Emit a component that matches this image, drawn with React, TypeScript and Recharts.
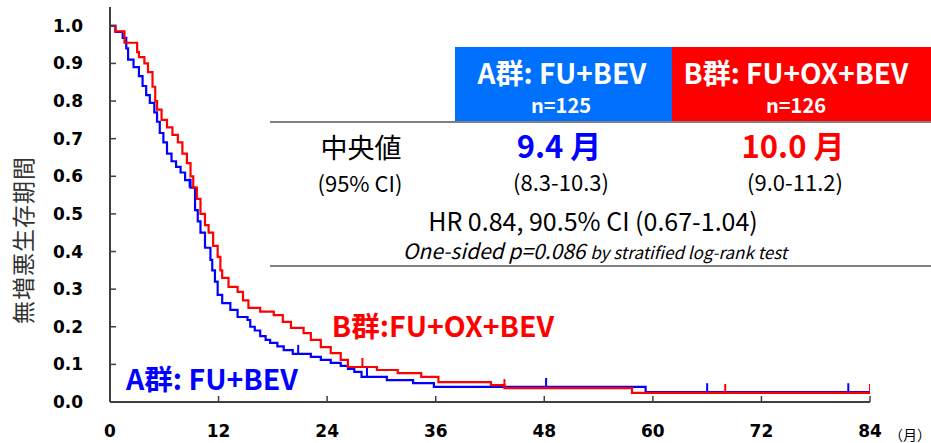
import React from 'react';
import { ComposedChart, Line, Scatter, XAxis, YAxis } from 'recharts';

// Kaplan-Meier steps (months, survival)
const armATimes = [0, 0.6, 1.4, 1.8, 2.0, 2.6, 3.2, 3.6, 4.0, 4.4, 4.9, 5.2, 5.5, 5.9, 6.3, 6.8, 7.3, 7.8, 8.3, 8.9, 9.4, 9.7, 10.0, 10.5, 11.1, 11.3, 11.6, 11.9, 12.4, 13.3, 14.1, 15.2, 15.5, 16.0, 16.6, 17.2, 17.7, 18.5, 19.2, 20.2, 22.2, 23.3, 24.4, 25.5, 26.3, 27.0, 27.8, 30.6, 33.5, 35.8, 59.2, 84];
const armASurv = [1.0, 0.984, 0.968, 0.94, 0.91, 0.89, 0.866, 0.84, 0.816, 0.795, 0.77, 0.745, 0.715, 0.69, 0.66, 0.64, 0.625, 0.61, 0.59, 0.57, 0.51, 0.48, 0.45, 0.41, 0.378, 0.35, 0.32, 0.285, 0.263, 0.245, 0.226, 0.218, 0.2, 0.19, 0.175, 0.165, 0.157, 0.148, 0.138, 0.128, 0.12, 0.112, 0.104, 0.096, 0.088, 0.08, 0.067, 0.058, 0.05, 0.04, 0.026, 0.026];

const armBTimes = [0, 0.6, 1.6, 3.0, 3.2, 3.8, 4.2, 4.7, 5.0, 5.2, 5.7, 6.3, 6.9, 7.5, 8.0, 8.5, 8.9, 9.2, 9.6, 10.0, 10.5, 10.9, 11.4, 11.9, 12.2, 12.4, 13.1, 14.1, 14.7, 15.3, 16.6, 18.1, 19.1, 20.0, 21.4, 22.2, 23.3, 24.4, 25.5, 26.3, 29.5, 31.8, 34.4, 36.3, 42.1, 43.6, 57.7, 84];
const armBSurv = [1.0, 0.985, 0.955, 0.93, 0.917, 0.9, 0.877, 0.838, 0.8, 0.777, 0.75, 0.73, 0.71, 0.69, 0.66, 0.635, 0.6, 0.57, 0.54, 0.5, 0.47, 0.45, 0.415, 0.386, 0.35, 0.33, 0.306, 0.293, 0.27, 0.25, 0.24, 0.231, 0.213, 0.197, 0.183, 0.165, 0.146, 0.13, 0.112, 0.093, 0.085, 0.077, 0.067, 0.053, 0.045, 0.037, 0.024, 0.024];

// censoring marks
const armACensorTimes = [8.8, 20.8, 28.4, 48.2, 66, 81.6];
const armACensorSurv = [0.57, 0.128, 0.067, 0.04, 0.026, 0.026];
const armBCensorTimes = [27.9, 43.6, 68, 84];
const armBCensorSurv = [0.093, 0.037, 0.024, 0.024];

const xTicks = [0, 12, 24, 36, 48, 60, 72, 84];
const yTicks = [0, 0.1, 0.2, 0.3, 0.4, 0.5, 0.6, 0.7, 0.8, 0.9, 1.0];

const BLUE = '#0000ff';
const RED = '#ff0000';
const AXIS = '#404040';
const JP = '"Noto Sans CJK JP", "Noto Sans", sans-serif';

const zip = (ts: number[], ss: number[]) => ts.map((t, i) => ({ t, s: ss[i] }));

const armA = zip(armATimes, armASurv);
const armB = zip(armBTimes, armBSurv);
const armACensor = zip(armACensorTimes, armACensorSurv);
const armBCensor = zip(armBCensorTimes, armBCensorSurv);

const censorMark = (color: string) => (props: any) => (
  <line x1={props.cx} x2={props.cx} y1={props.cy - 9} y2={props.cy} stroke={color} strokeWidth={2} />
);

const Txt = ({ x, y, children, style }: { x: number; y: number; children: React.ReactNode; style?: React.CSSProperties }) => (
  <div
    style={{
      position: 'absolute',
      left: x,
      top: y,
      transform: 'translate(-50%, -50%)',
      whiteSpace: 'nowrap',
      fontFamily: JP,
      lineHeight: 1,
      ...style,
    }}
  >
    {children}
  </div>
);

export default function App() {
  return (
    <div style={{ position: 'absolute', left: 0, top: 0, width: 931, height: 443, background: '#fff', overflow: 'hidden' }}>
      <ComposedChart width={931} height={443} margin={{ top: 7, right: 61, left: 40, bottom: 11 }}>
        <XAxis
          dataKey="t"
          type="number"
          domain={[0, 84]}
          ticks={xTicks}
          allowDataOverflow
          height={30}
          stroke={AXIS}
          strokeWidth={2}
          tickSize={-6}
          tickMargin={29}
          tickLine={{ stroke: AXIS, strokeWidth: 1.5 }}
          tick={{ fill: '#000', fontFamily: 'DejaVu Sans', fontWeight: 700, fontSize: 17 }}
        />
        <YAxis
          dataKey="s"
          type="number"
          domain={[0, 1.05]}
          ticks={yTicks}
          width={70}
          stroke={AXIS}
          strokeWidth={2}
          tickSize={-6}
          tickMargin={33}
          tickLine={{ stroke: AXIS, strokeWidth: 1.5 }}
          tickFormatter={(v: number) => v.toFixed(1)}
          tick={{ fill: '#000', fontFamily: 'DejaVu Sans', fontWeight: 700, fontSize: 17 }}
        />
        <Line data={armA} dataKey="s" type="stepAfter" stroke={BLUE} strokeWidth={2.2} dot={false} isAnimationActive={false} />
        <Line data={armB} dataKey="s" type="stepAfter" stroke={RED} strokeWidth={2.2} dot={false} isAnimationActive={false} />
        <Scatter data={armACensor} dataKey="s" shape={censorMark(BLUE)} isAnimationActive={false} />
        <Scatter data={armBCensor} dataKey="s" shape={censorMark(RED)} isAnimationActive={false} />
      </ComposedChart>

      {/* y axis title */}
      <Txt x={22} y={240} style={{ transform: 'translate(-50%, -50%) rotate(-90deg)', fontSize: 23, color: '#333', letterSpacing: 1 }}>
        無増悪生存期間
      </Txt>
      <div style={{ position: 'absolute', left: 889, top: 424, fontFamily: JP, fontSize: 14, color: '#000' }}>（月）</div>

      {/* curve labels */}
      <Txt x={443} y={325} style={{ fontSize: 28.5, fontWeight: 700, color: RED }}>B群:FU+OX+BEV</Txt>
      <Txt x={212} y={378} style={{ fontSize: 28.5, fontWeight: 700, color: BLUE }}>A群: FU+BEV</Txt>

      {/* summary table */}
      <div style={{ position: 'absolute', left: 455, top: 47, width: 217, height: 75, background: '#0070ff' }} />
      <div style={{ position: 'absolute', left: 672, top: 47, width: 259, height: 75, background: RED }} />
      <div style={{ position: 'absolute', left: 270, top: 121, width: 661, height: 2, background: '#808080' }} />
      <div style={{ position: 'absolute', left: 270, top: 265, width: 661, height: 2, background: '#808080' }} />

      <Txt x={562} y={72} style={{ fontSize: 28, fontWeight: 700, color: '#fff' }}>A群: FU+BEV</Txt>
      <Txt x={561} y={105} style={{ fontSize: 20, fontWeight: 700, color: '#fff' }}>n=125</Txt>
      <Txt x={796} y={72} style={{ fontSize: 28, fontWeight: 700, color: '#fff' }}>B群: FU+OX+BEV</Txt>
      <Txt x={796} y={105} style={{ fontSize: 20, fontWeight: 700, color: '#fff' }}>n=126</Txt>

      <Txt x={361} y={146} style={{ fontSize: 27, color: '#000' }}>中央値</Txt>
      <Txt x={360} y={182} style={{ fontSize: 22, color: '#000' }}>(95% CI)</Txt>
      <Txt x={559} y={144} style={{ fontSize: 31, fontWeight: 700, color: BLUE }}>9.4 月</Txt>
      <Txt x={561} y={181} style={{ fontSize: 22, color: '#000' }}>(8.3-10.3)</Txt>
      <Txt x={793} y={144} style={{ fontSize: 31, fontWeight: 700, color: RED }}>10.0 月</Txt>
      <Txt x={795} y={181} style={{ fontSize: 22, color: '#000' }}>(9.0-11.2)</Txt>

      <Txt x={593} y={220} style={{ fontSize: 25, color: '#000' }}>HR 0.84, 90.5% CI (0.67-1.04)</Txt>
      <Txt x={595} y={250} style={{ fontSize: 21, fontStyle: 'italic', color: '#000' }}>
        One-sided p=0.086 <span style={{ fontSize: 17 }}>by stratified log-rank test</span>
      </Txt>
    </div>
  );
}
